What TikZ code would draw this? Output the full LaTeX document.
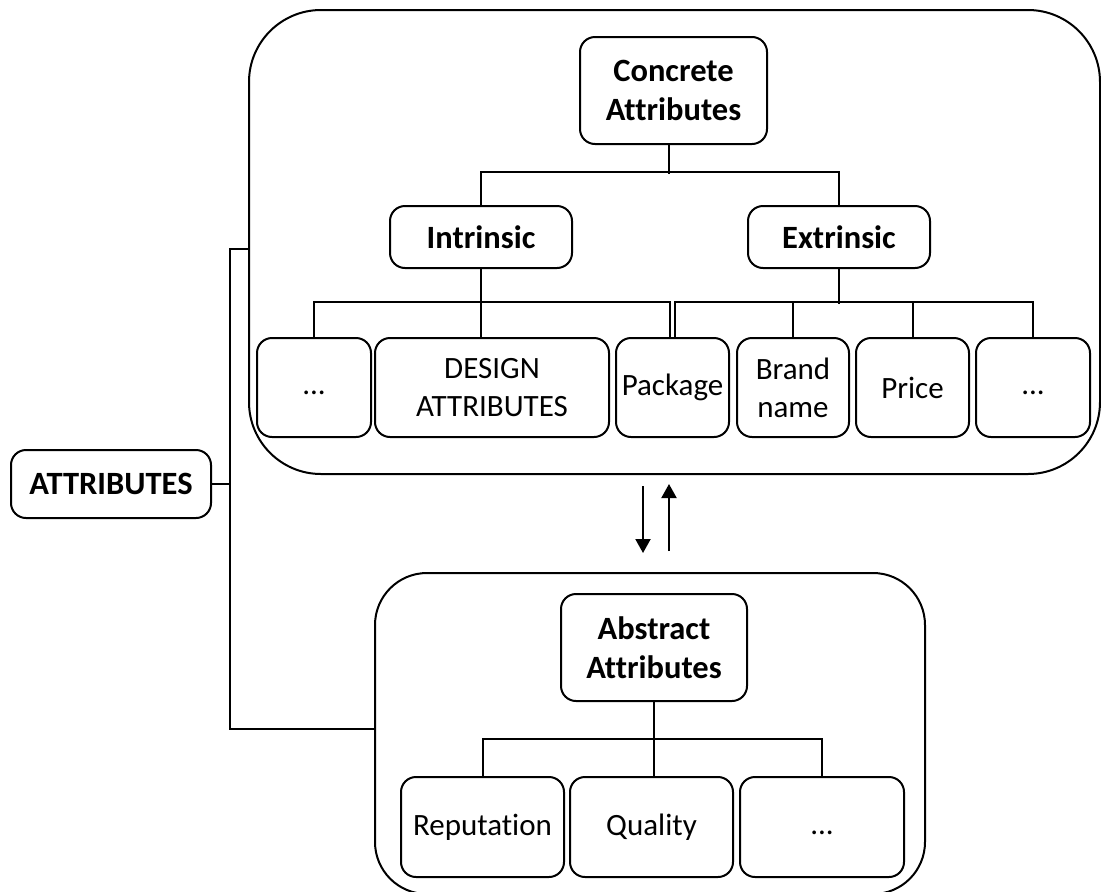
\documentclass[tikz,border=0pt]{standalone}
\usepackage{fontspec}
\setmainfont{Carlito}[Ligatures=NoCommon]
\usetikzlibrary{arrows.meta}
\begin{document}
\begin{tikzpicture}[x=1pt,y=-1pt,line width=2pt,
  every node/.style={font=\fontsize{31}{38}\selectfont, align=center, inner sep=0pt},
  box/.style={draw, rounded corners=15pt},
  group/.style={draw, rounded corners=#1},
  head/.style={box, font=\fontsize{32.5}{39}\selectfont\bfseries},
  flow/.style={-{Triangle[length=14pt,width=15pt]}}]
\clip (0,0) rectangle (1101,892);
\newcommand\more{\vphantom{Pg}...}

% the two groups
\node[group=72pt, minimum width=851pt, minimum height=464pt] (concrete) at (674.5,242) {};
\node[group=52pt, minimum width=550pt, minimum height=321pt] (abstract) at (650,733.5) {};

% concrete attributes tree
\node[head, minimum width=187pt, minimum height=107pt] (CA) at (673.5,90.5) {Concrete\\Attributes};
\node[head, minimum width=182pt, minimum height=62pt] (intr) at (481,237) {Intrinsic};
\node[head, minimum width=182pt, minimum height=62pt] (extr) at (839,237) {Extrinsic};
\node[box, minimum width=114pt, minimum height=99pt] (dotsA) at (314,387.5) {\more};
\node[box, minimum width=234pt, minimum height=99pt] (design) at (492,387.5) {DESIGN\\ATTRIBUTES};
\node[box, minimum width=113pt, minimum height=99pt] (package) at (672.5,387.5) {Package};
\node[box, minimum width=112pt, minimum height=99pt] (brand) at (793,387.5) {Brand\\name};
\node[box, minimum width=113pt, minimum height=99pt] (price) at (912.5,387.5) {Price};
\node[box, minimum width=114pt, minimum height=99pt] (dotsB) at (1033,387.5) {\more};

% abstract attributes tree
\node[head, minimum width=186pt, minimum height=107pt] (AA) at (654,647.5) {Abstract\\Attributes};
\node[box, minimum width=163pt, minimum height=100pt] (rep) at (482.5,827) {Reputation};
\node[box, minimum width=163pt, minimum height=100pt] (qual) at (651.5,827) {Quality};
\node[box, minimum width=164pt, minimum height=100pt] (dotsC) at (822,827) {\more};

% root
\node[head, minimum width=200pt, minimum height=68pt] (attr) at (111,484) {ATTRIBUTES};

% concrete connectors
\draw ([xshift=-4.5pt]CA.south) -- ++(0,29);
\draw (intr.north) -- ++(0,-33) -| (extr.north);
\draw (intr.south) -- (intr.south |- design.north);
\draw (dotsA.north) -- ++(0,-35) -| ([xshift=-3pt]package.north);
\draw (extr.south) -- ++(0,35);
\draw ([xshift=2pt]package.north) -- ++(0,-35) -| (dotsB.north);
\draw (brand.north) -- ++(0,-35);
\draw (price.north) -- ++(0,-35);

% abstract connectors
\draw (AA.south) -- (AA.south |- qual.north);
\draw (rep.north) -- ++(0,-37) -| (dotsC.north);

% root spine
\coordinate (spineTop) at (230,249);
\coordinate (spineMid) at (230,484);
\coordinate (spineBot) at (230,729);
\draw (attr.east) -- (spineMid);
\draw (concrete.west |- spineTop) -- (spineTop) -- (spineBot) -- (abstract.west |- spineBot);

% link between the groups
\path (concrete.south) ++(-31.5,11) coordinate (downA);
\path (abstract.north) ++(-7,-19) coordinate (downB);
\path (abstract.north) ++(19,-21) coordinate (upA);
\path (concrete.south) ++(-5.5,9) coordinate (upB);
\draw[flow] (downA) -- (downA |- downB);
\draw[flow] (upA) -- (upA |- upB);
\end{tikzpicture}
\end{document}
